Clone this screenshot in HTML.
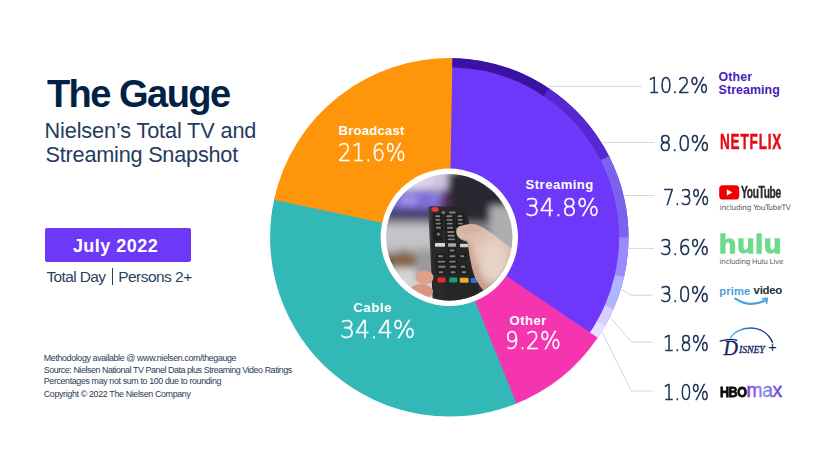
<!DOCTYPE html>
<html><head><meta charset="utf-8">
<style>
*{margin:0;padding:0;box-sizing:border-box}
html,body{width:840px;height:473px;overflow:hidden;background:#fff}
body{position:relative;font-family:"Liberation Sans",Arial,sans-serif;color:#0E2245}
.a{position:absolute;white-space:nowrap;line-height:1;transform-origin:0 0}
svg.main{position:absolute;left:0;top:0}
.box{position:absolute;left:45px;top:227.6px;width:146px;height:34.7px;background:#6E38F9;border-radius:2px}
</style></head><body>
<svg class="main" width="840" height="473" viewBox="0 0 840 473">
<path d="M449.30,237.30 L452.43,58.13 A179.2,179.2 0 0 1 596.63,339.31 Z" fill="#6E38FA"/>
<path d="M449.30,237.30 L597.69,337.77 A179.2,179.2 0 0 1 514.69,404.15 Z" fill="#F535B0"/>
<path d="M449.30,237.30 L516.43,403.45 A179.2,179.2 0 0 1 274.48,197.90 Z" fill="#33B8B8"/>
<path d="M449.30,237.30 L274.08,199.74 A179.2,179.2 0 0 1 454.30,58.17 Z" fill="#FF950A"/>
<path d="M449.30,237.30 L452.43,58.13 A179.2,179.2 0 0 1 461.80,58.54 Z" fill="#6E38FA"/>
<path d="M452.43,58.13 A179.2,179.2 0 0 1 550.03,89.09 L544.74,96.86 A169.8,169.8 0 0 0 452.26,67.53 Z" fill="#3A14A0"/>
<path d="M548.73,88.21 A179.2,179.2 0 0 1 609.67,157.34 L601.26,161.54 A169.8,169.8 0 0 0 543.51,96.03 Z" fill="#5528D0"/>
<path d="M608.97,155.94 A179.2,179.2 0 0 1 628.49,238.86 L619.09,238.78 A169.8,169.8 0 0 0 600.59,160.21 Z" fill="#7B62EE"/>
<path d="M628.50,237.30 A179.2,179.2 0 0 1 623.69,278.52 L614.55,276.36 A169.8,169.8 0 0 0 619.10,237.30 Z" fill="#9C89FF"/>
<path d="M624.05,277.00 A179.2,179.2 0 0 1 612.75,310.76 L604.18,306.90 A169.8,169.8 0 0 0 614.88,274.92 Z" fill="#B1B5FF"/>
<path d="M613.39,309.33 A179.2,179.2 0 0 1 604.18,327.44 L596.05,322.71 A169.8,169.8 0 0 0 604.78,305.55 Z" fill="#D8CFFF"/>
<path d="M604.96,326.09 A179.2,179.2 0 0 1 597.69,337.77 L589.90,332.50 A169.8,169.8 0 0 0 596.79,321.43 Z" fill="#E8E2FF"/>
<circle cx="449.3" cy="237.3" r="68.7" fill="#fff"/>
<clipPath id="pc"><circle cx="449.3" cy="237.3" r="63.2"/></clipPath>

<defs>
<filter id="bl3" x="-20%" y="-20%" width="140%" height="140%"><feGaussianBlur stdDeviation="3.5"/></filter>
<filter id="bl1" x="-20%" y="-20%" width="140%" height="140%"><feGaussianBlur stdDeviation="0.7"/></filter>
<filter id="bl05"><feGaussianBlur stdDeviation="0.6"/></filter>
<linearGradient id="skin" x1="0.2" y1="0" x2="0.6" y2="1">
<stop offset="0" stop-color="#d9b7a6"/><stop offset="0.35" stop-color="#e2c8ba"/><stop offset="0.7" stop-color="#d8b4a4"/><stop offset="1" stop-color="#c49484"/></linearGradient>
<linearGradient id="rem" x1="0" y1="0" x2="1" y2="0">
<stop offset="0" stop-color="#4a4a4c"/><stop offset="0.08" stop-color="#2a2a2c"/><stop offset="1" stop-color="#242426"/></linearGradient>
</defs>
<g clip-path="url(#pc)">
<g filter="url(#bl3)">
<rect x="380" y="168" width="140" height="140" fill="#2f2b36"/>
<rect x="380" y="168" width="78" height="22" fill="#cdc5de"/>
<ellipse cx="405" cy="180" rx="30" ry="10" fill="#ddd6ea"/>
<ellipse cx="417" cy="201" rx="33" ry="11" fill="#7e6dd6"/>
<ellipse cx="409" cy="200" rx="9" ry="5" fill="#a596e6"/>
<ellipse cx="437" cy="196" rx="7" ry="6" fill="#8f7fdc"/>
<rect x="380" y="209" width="50" height="11" fill="#3e3b6c"/>
<ellipse cx="457" cy="191" rx="10" ry="13" fill="#5a44c6"/>
<rect x="448" y="172" width="72" height="50" fill="#2a2730"/>
<ellipse cx="445" cy="201" rx="6" ry="6" fill="#5e2e58"/>
<rect x="380" y="219" width="70" height="6" fill="#8c8c94"/>
<rect x="380" y="225" width="70" height="24" fill="#c4c4c8"/>
<rect x="380" y="247" width="60" height="8" fill="#b2b0ae"/>
<rect x="462" y="222" width="40" height="26" fill="#7f7f85"/>
<rect x="490" y="206" width="34" height="60" fill="#aeaeb0"/>
<ellipse cx="404" cy="263" rx="14" ry="12" fill="#86664a"/>
<rect x="380" y="268" width="60" height="40" fill="#d4d4d8"/>
<rect x="416" y="250" width="20" height="30" fill="#9b9b9f"/>
</g>
<g filter="url(#bl05)">
<path d="M430.5,206.3 L464,207.2 Q467,207.4 467.2,210.5 L480,304 L433,306 L428.2,209.5 Q428.1,206.2 430.5,206.3 Z" fill="url(#rem)"/>
<ellipse cx="435" cy="209.5" rx="3.7" ry="2.4" fill="#e23a3a"/>
<g fill="#1c1c1f"><rect x="433.30" y="213.80" width="8.80" height="4.8" rx="1.3"/><rect x="444.40" y="213.80" width="9.80" height="4.8" rx="1.3"/><rect x="455.50" y="213.80" width="8.70" height="4.8" rx="1.3"/><rect x="433.60" y="217.50" width="8.70" height="4.8" rx="1.3"/><rect x="444.60" y="217.50" width="9.80" height="4.8" rx="1.3"/><rect x="455.80" y="217.50" width="8.70" height="4.8" rx="1.3"/><rect x="433.90" y="221.20" width="8.70" height="4.8" rx="1.3"/><rect x="444.90" y="221.20" width="9.80" height="4.8" rx="1.3"/><rect x="456.10" y="221.20" width="8.70" height="4.8" rx="1.3"/><rect x="434.20" y="225.40" width="8.70" height="4.8" rx="1.3"/><rect x="445.20" y="225.40" width="9.80" height="4.8" rx="1.3"/><rect x="456.40" y="225.40" width="8.70" height="4.8" rx="1.3"/><rect x="445.40" y="229.60" width="10.80" height="4.8" rx="1.3"/><rect x="445.70" y="233.30" width="10.80" height="4.8" rx="1.3"/><rect x="445.90" y="237.00" width="10.90" height="4.8" rx="1.3"/><rect x="447.80" y="248.10" width="8.40" height="4.8" rx="1.3"/><rect x="436.10" y="253.80" width="8.90" height="4.8" rx="1.3"/><rect x="447.60" y="253.80" width="9.60" height="4.8" rx="1.3"/><rect x="458.30" y="253.80" width="7.90" height="4.8" rx="1.3"/><rect x="435.60" y="259.20" width="11.60" height="4.8" rx="1.3"/><rect x="447.40" y="259.20" width="10.20" height="4.8" rx="1.3"/><rect x="436.10" y="264.40" width="11.40" height="4.8" rx="1.3"/><rect x="447.80" y="264.40" width="10.40" height="4.8" rx="1.3"/><rect x="458.80" y="264.40" width="8.40" height="4.8" rx="1.3"/><rect x="436.80" y="269.80" width="8.40" height="4.8" rx="1.3"/><rect x="448.80" y="269.80" width="8.40" height="4.8" rx="1.3"/><rect x="459.80" y="269.80" width="8.40" height="4.8" rx="1.3"/><rect x="433.6" y="230.4" width="8" height="10" rx="1.5"/></g>
<g fill="#7e7e84"><rect x="435.1" y="215.25" width="5.20" height="1.9" rx="0.8"/><rect x="446.20000000000005" y="215.25" width="6.20" height="1.9" rx="0.8"/><rect x="457.3" y="215.25" width="5.10" height="1.9" rx="0.8"/><rect x="435.40000000000003" y="218.95" width="5.10" height="1.9" rx="0.8"/><rect x="446.40000000000003" y="218.95" width="6.20" height="1.9" rx="0.8"/><rect x="457.6" y="218.95" width="5.10" height="1.9" rx="0.8"/><rect x="435.70000000000005" y="222.65" width="5.10" height="1.9" rx="0.8"/><rect x="446.70000000000005" y="222.65" width="6.20" height="1.9" rx="0.8"/><rect x="457.90000000000003" y="222.65" width="5.10" height="1.9" rx="0.8"/><rect x="436.0" y="226.85" width="5.10" height="1.9" rx="0.8"/><rect x="447.0" y="226.85" width="6.20" height="1.9" rx="0.8"/><rect x="458.20000000000005" y="226.85" width="5.10" height="1.9" rx="0.8"/><rect x="447.20000000000005" y="231.05" width="7.20" height="1.9" rx="0.8"/><rect x="447.5" y="234.75" width="7.20" height="1.9" rx="0.8"/><rect x="447.70000000000005" y="238.45" width="7.30" height="1.9" rx="0.8"/><rect x="449.6" y="249.55" width="4.80" height="1.9" rx="0.8"/><rect x="437.90000000000003" y="255.25" width="5.30" height="1.9" rx="0.8"/><rect x="449.40000000000003" y="255.25" width="6.00" height="1.9" rx="0.8"/><rect x="460.1" y="255.25" width="4.30" height="1.9" rx="0.8"/><rect x="437.40000000000003" y="260.65" width="8.00" height="1.9" rx="0.8"/><rect x="449.20000000000005" y="260.65" width="6.60" height="1.9" rx="0.8"/><rect x="437.90000000000003" y="265.85" width="7.80" height="1.9" rx="0.8"/><rect x="449.6" y="265.85" width="6.80" height="1.9" rx="0.8"/><rect x="460.6" y="265.85" width="4.80" height="1.9" rx="0.8"/><rect x="438.6" y="271.25" width="4.80" height="1.9" rx="0.8"/><rect x="450.6" y="271.25" width="4.80" height="1.9" rx="0.8"/><rect x="461.6" y="271.25" width="4.80" height="1.9" rx="0.8"/><circle cx="443.5" cy="212.5" r="1.6"/><rect x="449" y="211.5" width="6.7" height="2" rx="0.8"/><rect x="436.6" y="233.6" width="3.6" height="1.4"/><rect x="437.7" y="232.5" width="1.4" height="3.6"/></g>
<rect x="435" y="243.1" width="10" height="3.7" rx="0.8" fill="#d8d8da"/>
<rect x="448" y="243.3" width="8" height="3.4" rx="0.8" fill="#a8a8ac"/>
<rect x="460" y="243.8" width="8" height="3.4" rx="0.8" fill="#cfcfd2"/>
<rect x="437.4" y="277.4" width="8.1" height="5" rx="1.2" fill="#e52c2c"/>
<rect x="449.2" y="277.6" width="8" height="5" rx="1.2" fill="#12a36a"/>
<rect x="459.8" y="277.8" width="8.8" height="5" rx="1.2" fill="#e9b22c"/>
<rect x="470.6" y="278" width="6.5" height="5" rx="1.2" fill="#2d6fd8"/>
</g>
<g filter="url(#bl1)">
<clipPath id="hc"><path d="M456.3,232 Q456,227.5 459,226.5 Q465,224.3 471.5,224 Q479,224.6 486,229.4 Q494,234 500.3,240 L513,250 L516,256 L516,304 L486,293 Q482,289 480.5,286.8 Q477,281 475.1,277.8 Q472.5,270 471.5,265.3 Q469.8,257 468.9,251 Q468.3,245 467.5,242 Q463,240.5 460.8,239.2 Q456.5,236.5 456.3,232 Z"/></clipPath>
<path d="M456.3,232 Q456,227.5 459,226.5 Q465,224.3 471.5,224 Q479,224.6 486,229.4 Q494,234 500.3,240 L513,250 L516,256 L516,304 L486,293 Q482,289 480.5,286.8 Q477,281 475.1,277.8 Q472.5,270 471.5,265.3 Q469.8,257 468.9,251 Q468.3,245 467.5,242 Q463,240.5 460.8,239.2 Q456.5,236.5 456.3,232 Z" fill="url(#skin)"/>
<g clip-path="url(#hc)"><g filter="url(#bl3)"><ellipse cx="494" cy="262" rx="13" ry="20" fill="#e6d3c8"/><ellipse cx="472" cy="229" rx="12" ry="3.5" fill="#d2ad9b"/><path d="M466,242 Q472,270 486,296" stroke="#bb8a78" stroke-width="5" fill="none"/></g></g>
<path d="M461,238.8 Q465,240.5 468,241" stroke="#b98c7c" stroke-width="0.8" fill="none"/>
<ellipse cx="424.5" cy="277.5" rx="9" ry="7" fill="#df9f8b"/>
<ellipse cx="421" cy="291.5" rx="12" ry="7.5" fill="#da9683"/>
</g>
</g>

<path d="M548.7,86.3 H641.7" stroke="#D3D7E1" stroke-width="1" fill="none"/>
<path d="M602.6,142.5 H654.3" stroke="#D3D7E1" stroke-width="1" fill="none"/>
<path d="M624.4,195.5 H654.3" stroke="#D3D7E1" stroke-width="1" fill="none"/>
<path d="M627.7,248.4 H654.3" stroke="#D3D7E1" stroke-width="1" fill="none"/>
<path d="M621.6,289.6 L631,295.2 H652.8" stroke="#D3D7E1" stroke-width="1" fill="none"/>
<path d="M610.2,317.5 L631.8,342.1 H652.8" stroke="#D3D7E1" stroke-width="1" fill="none"/>
<path d="M602.1,332 L631.3,391.1 H652.8" stroke="#D3D7E1" stroke-width="1" fill="none"/>
</svg>

<div class="box"></div>
<div class="a" style="left:111.8px;top:268px;width:1.3px;height:16.5px;background:#2B3F5E"></div>
<div class="a" style="left:46.9px;top:75.00px;font-family:'Liberation Sans',sans-serif;font-weight:700;font-size:38.1px;letter-spacing:-1.55px;color:#032146">The Gauge</div>
<div class="a" style="left:44.5px;top:120.00px;font-family:'Liberation Sans',sans-serif;font-weight:400;font-size:21.7px;letter-spacing:-0.129px;color:#253B5D">Nielsen’s Total TV and</div>
<div class="a" style="left:45.5px;top:143.60px;font-family:'Liberation Sans',sans-serif;font-weight:400;font-size:21.7px;letter-spacing:-0.224px;color:#253B5D">Streaming Snapshot</div>
<div class="a" style="left:72.9px;top:237.20px;font-family:'Liberation Sans',sans-serif;font-weight:700;font-size:18.0px;letter-spacing:0.462px;color:#FFFFFF">July 2022</div>
<div class="a" style="left:46.4px;top:268.60px;font-family:'Liberation Sans',sans-serif;font-weight:400;font-size:15.5px;letter-spacing:-0.625px;color:#2B3F5E">Total Day</div>
<div class="a" style="left:118.2px;top:268.60px;font-family:'Liberation Sans',sans-serif;font-weight:400;font-size:15.5px;letter-spacing:-0.533px;color:#2B3F5E">Persons 2+</div>
<div class="a" style="left:43.8px;top:353.60px;font-family:'Liberation Sans',sans-serif;font-weight:400;font-size:8.9px;letter-spacing:-0.374px;color:#2A3A55">Methodology available @ www.nielsen.com/thegauge</div>
<div class="a" style="left:43.8px;top:365.60px;font-family:'Liberation Sans',sans-serif;font-weight:400;font-size:8.9px;letter-spacing:-0.433px;color:#2A3A55">Source: Nielsen National TV Panel Data plus Streaming Video Ratings</div>
<div class="a" style="left:43.8px;top:377.40px;font-family:'Liberation Sans',sans-serif;font-weight:400;font-size:8.9px;letter-spacing:-0.373px;color:#2A3A55">Percentages may not sum to 100 due to rounding</div>
<div class="a" style="left:43.8px;top:389.80px;font-family:'Liberation Sans',sans-serif;font-weight:400;font-size:8.9px;letter-spacing:-0.351px;color:#2A3A55">Copyright © 2022 The Nielsen Company</div>
<div class="a" style="left:338.5px;top:123.80px;font-family:'Liberation Sans',sans-serif;font-weight:700;font-size:13.1px;letter-spacing:0.237px;color:#FFFFFF">Broadcast</div>
<div class="a" style="left:338.3px;top:139.90px;font-family:'DejaVu Sans',sans-serif;font-weight:200;font-size:25.2px;letter-spacing:0px;color:#FFFFFF;transform:scaleX(0.8455);-webkit-text-stroke:0.55px #FFFFFF">21.6%</div>
<div class="a" style="left:525.6px;top:178.20px;font-family:'Liberation Sans',sans-serif;font-weight:700;font-size:13.1px;letter-spacing:0.462px;color:#FFFFFF">Streaming</div>
<div class="a" style="left:524.5px;top:194.50px;font-family:'DejaVu Sans',sans-serif;font-weight:200;font-size:25.2px;letter-spacing:0px;color:#FFFFFF;transform:scaleX(0.925);-webkit-text-stroke:0.55px #FFFFFF">34.8%</div>
<div class="a" style="left:353.2px;top:300.90px;font-family:'Liberation Sans',sans-serif;font-weight:700;font-size:13.1px;letter-spacing:0.625px;color:#FFFFFF">Cable</div>
<div class="a" style="left:340.2px;top:316.90px;font-family:'DejaVu Sans',sans-serif;font-weight:200;font-size:25.2px;letter-spacing:0px;color:#FFFFFF;transform:scaleX(0.9408);-webkit-text-stroke:0.55px #FFFFFF">34.4%</div>
<div class="a" style="left:509.6px;top:313.90px;font-family:'Liberation Sans',sans-serif;font-weight:700;font-size:13.1px;letter-spacing:0.475px;color:#FFFFFF">Other</div>
<div class="a" style="left:504.6px;top:328.40px;font-family:'DejaVu Sans',sans-serif;font-weight:200;font-size:25.2px;letter-spacing:0px;color:#FFFFFF;transform:scaleX(0.8717);-webkit-text-stroke:0.55px #FFFFFF">9.2%</div>
<div class="a" style="left:647.6px;top:74.50px;font-family:'DejaVu Sans',sans-serif;font-weight:200;font-size:21.9px;letter-spacing:0px;color:#142B50;transform:scaleX(0.8652);-webkit-text-stroke:0.65px #142B50">10.2%</div>
<div class="a" style="left:659.0px;top:132.50px;font-family:'DejaVu Sans',sans-serif;font-weight:200;font-size:21.9px;letter-spacing:0px;color:#142B50;transform:scaleX(0.9038);-webkit-text-stroke:0.65px #142B50">8.0%</div>
<div class="a" style="left:662.8px;top:186.50px;font-family:'DejaVu Sans',sans-serif;font-weight:200;font-size:21.9px;letter-spacing:0px;color:#142B50;transform:scaleX(0.834);-webkit-text-stroke:0.65px #142B50">7.3%</div>
<div class="a" style="left:660.3px;top:237.10px;font-family:'DejaVu Sans',sans-serif;font-weight:200;font-size:21.9px;letter-spacing:0px;color:#142B50;transform:scaleX(0.8811);-webkit-text-stroke:0.65px #142B50">3.6%</div>
<div class="a" style="left:660.3px;top:284.00px;font-family:'DejaVu Sans',sans-serif;font-weight:200;font-size:21.9px;letter-spacing:0px;color:#142B50;transform:scaleX(0.8811);-webkit-text-stroke:0.65px #142B50">3.0%</div>
<div class="a" style="left:662.8px;top:332.50px;font-family:'DejaVu Sans',sans-serif;font-weight:200;font-size:21.9px;letter-spacing:0px;color:#142B50;transform:scaleX(0.8231);-webkit-text-stroke:0.65px #142B50">1.8%</div>
<div class="a" style="left:662.8px;top:381.50px;font-family:'DejaVu Sans',sans-serif;font-weight:200;font-size:21.9px;letter-spacing:0px;color:#142B50;transform:scaleX(0.8231);-webkit-text-stroke:0.65px #142B50">1.0%</div>
<div class="a" style="left:718.6px;top:71.20px;font-family:'Liberation Sans',sans-serif;font-weight:700;font-size:12.4px;letter-spacing:0.1px;color:#4A1DB8">Other</div>
<div class="a" style="left:718.6px;top:83.60px;font-family:'Liberation Sans',sans-serif;font-weight:700;font-size:12.4px;letter-spacing:0.075px;color:#4A1DB8">Streaming</div>

<div class="a" style="left:719.8px;top:131.0px;font-family:'Liberation Sans',sans-serif;font-weight:700;font-size:22.6px;letter-spacing:1.35px;color:#E50914;transform:scaleX(0.6);-webkit-text-stroke:0.5px #E50914">NETFLIX</div>

<svg style="position:absolute;left:0;top:0" width="840" height="473">
<rect x="719.2" y="185.2" width="20" height="14.3" rx="3.6" fill="#F00000"/>
<path d="M726.8,189.3 L732.4,192.4 L726.8,195.6 Z" fill="#fff"/>
<path d="M735.4,298.6 Q750,308.4 765.6,300.2" stroke="#4AA0DE" stroke-width="2.1" fill="none" stroke-linecap="round"/>
<path d="M762.4,298.7 L767.3,298.4 L766.6,303.2" stroke="#4AA0DE" stroke-width="1.6" fill="none" stroke-linecap="round" stroke-linejoin="round"/>
<defs><linearGradient id="dg" x1="0" y1="0" x2="1" y2="0"><stop offset="0" stop-color="#55C8E8"/><stop offset="0.45" stop-color="#2A66B0"/><stop offset="1" stop-color="#1A2C78"/></linearGradient>
<linearGradient id="mg" x1="0" y1="0" x2="1" y2="0"><stop offset="0" stop-color="#7B2FE0"/><stop offset="0.5" stop-color="#8FA2EC"/><stop offset="1" stop-color="#6A30DA"/></linearGradient></defs>
<path d="M730.5,338.1 C736,326 764,322 772.7,342.7" stroke="url(#dg)" stroke-width="1.5" fill="none"/>
<path d="M720.3,341.2 Q729,338.2 737,340.3" stroke="#101F5E" stroke-width="1.3" fill="none" stroke-linecap="round"/>
</svg>

<div class="a" style="left:741.1px;top:183.6px;font-family:'Liberation Sans',sans-serif;font-weight:700;font-size:17.4px;letter-spacing:-0.6px;color:#282828;transform:scaleX(0.59);-webkit-text-stroke:0.4px #282828">YouTube</div>
<div class="a" style="left:719.6px;top:204.2px;font-family:'DejaVu Sans',sans-serif;font-size:7.4px;letter-spacing:-0.24px;color:#5c5c62">including YouTubeTV</div>

<div class="a" style="left:718.5px;top:232.0px;font-family:'Liberation Sans',sans-serif;font-weight:700;font-size:25.8px;letter-spacing:0.9px;color:#6EDB8C;-webkit-text-stroke:1.3px #6EDB8C;transform:scaleX(1.09)">hulu</div>
<div class="a" style="left:719.6px;top:257.9px;font-family:'DejaVu Sans',sans-serif;font-size:7.2px;letter-spacing:-0.26px;color:#5c5c62">including Hulu Live</div>

<div class="a" style="left:719.3px;top:285.5px;font-family:'Liberation Sans',sans-serif;font-weight:700;font-size:11.2px;letter-spacing:0.1px;color:#4AA0DE">prime</div>
<div class="a" style="left:753.6px;top:285.1px;font-family:'Liberation Sans',sans-serif;font-weight:700;font-size:11.4px;letter-spacing:-0.3px;color:#232F3E">video</div>

<div class="a" style="left:723.5px;top:337.6px;font-family:'Liberation Serif',serif;font-style:italic;font-size:20px;color:#101F5E;-webkit-text-stroke:0.3px #101F5E">D</div>
<div class="a" style="left:739px;top:344.6px;font-family:'Liberation Serif',serif;font-style:italic;font-size:9.8px;letter-spacing:-0.1px;color:#101F5E;-webkit-text-stroke:0.3px #101F5E">ISNEY</div>
<div class="a" style="left:768.2px;top:339.8px;font-family:'Liberation Sans',sans-serif;font-size:14.5px;color:#101F5E">+</div>
<div class="a" style="left:719.6px;top:384.4px;font-family:'Liberation Sans',sans-serif;font-weight:700;font-size:15.3px;letter-spacing:-0.6px;color:#0a0a0a;transform:scaleX(0.82);-webkit-text-stroke:0.9px #0a0a0a">HBO</div>
<svg style="position:absolute;left:0;top:0" width="840" height="473"><defs><linearGradient id="mg2" gradientUnits="userSpaceOnUse" x1="747" y1="0" x2="782" y2="0"><stop offset="0" stop-color="#7A2FE2"/><stop offset="0.5" stop-color="#8C9EEA"/><stop offset="1" stop-color="#6B2FDC"/></linearGradient></defs>
<text x="746.6" y="397.2" font-family="'Liberation Sans',sans-serif" font-size="20" letter-spacing="-0.5" fill="url(#mg2)" stroke="url(#mg2)" stroke-width="0.5" textLength="35" lengthAdjust="spacingAndGlyphs">max</text></svg>

</body></html>
